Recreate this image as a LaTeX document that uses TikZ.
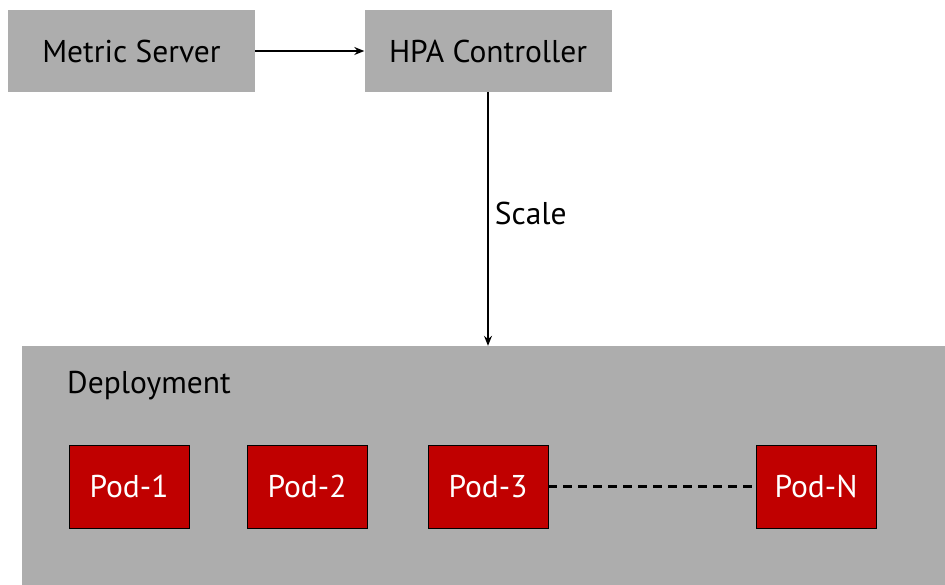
\documentclass[tikz,border=0pt]{standalone}
\usepackage{fontspec}
\setmainfont{PT Sans}
\usetikzlibrary{arrows.meta}
\definecolor{boxgray}{HTML}{ADADAD}
\definecolor{podred}{HTML}{C00000}
\begin{document}
\begin{tikzpicture}[x=1pt,y=-1pt,
  lbl/.style={font=\fontsize{31.5}{36}\selectfont},
  graybox/.style={lbl,fill=boxgray,draw=none,minimum width=247pt,minimum height=82pt,inner sep=0pt},
  podbox/.style={lbl,fill=podred,draw=black,line width=0.8pt,minimum width=120pt,minimum height=83pt,inner sep=0pt,text=white},
  conn/.style={draw=black,line width=1.2pt,-{Stealth[length=10pt,width=8pt]}}]
\useasboundingbox (0,0) rectangle (945,585);
\fill[white] (0,0) rectangle (945,585);
\node[graybox] (ms) at (131.5,51) {Metric Server};
\node[graybox] (hpa) at (488,51) {HPA Controller};
\node[fill=boxgray,draw=none,minimum width=923pt,minimum height=239pt,inner sep=0pt] (dep) at (483.5,465.5) {};
\node[lbl,anchor=base west,inner sep=0pt] (deplabel) at (67,393) {Deployment};
\node[podbox] (p1) at (129,486.5) {Pod-1};
\node[podbox] (p2) at (307,486.5) {Pod-2};
\node[podbox] (p3) at (488,486.5) {Pod-3};
\node[podbox] (pn) at (816,486.5) {Pod-N};
\draw[conn] (ms.east) -- (hpa.west);
\draw[conn] (hpa.south) -- node[lbl,right,xshift=3pt,yshift=6pt] {Scale} (hpa.south |- dep.north);
\draw[black,line width=2.4pt,dash pattern=on 9pt off 6pt] (p3.east) -- (pn.west);
\end{tikzpicture}
\end{document}
